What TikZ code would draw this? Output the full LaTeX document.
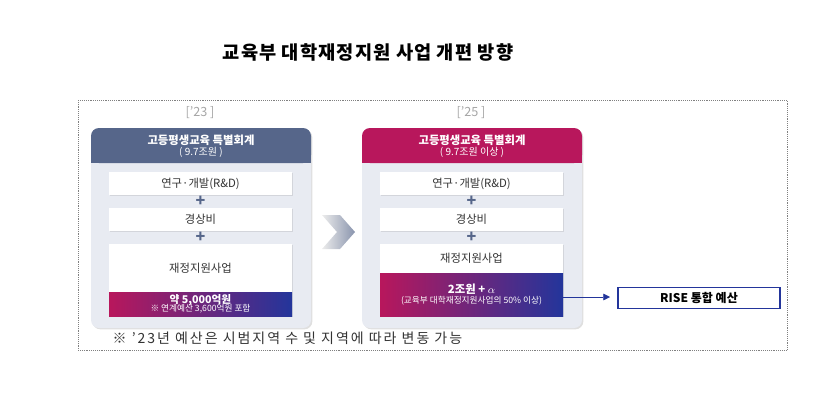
\documentclass[tikz,border=0pt]{standalone}
\usepackage{fontspec}
\setmainfont{Noto Sans CJK KR}
\usetikzlibrary{shadows,arrows.meta}
\definecolor{slate}{HTML}{56668A}
\definecolor{mag}{HTML}{B8175C}
\definecolor{navy}{HTML}{23359B}
\definecolor{panel}{HTML}{E8EBF2}
\definecolor{txt}{HTML}{333333}
\begin{document}
\begin{tikzpicture}[x=0.75pt,y=-0.75pt,
  panelbox/.style={fill=panel,rounded corners=6pt,drop shadow={opacity=0.25,shadow xshift=1pt,shadow yshift=-1pt}},
  wbox/.style={fill=white,draw=none,drop shadow={opacity=0.2,shadow xshift=0.5pt,shadow yshift=-0.5pt}},
  lbl/.style={font=\fontsize{8.5}{9}\selectfont,text=txt},
  plus/.style={font=\fontsize{12}{12}\selectfont\bfseries,text=slate},
  hdr/.style={font=\fontsize{8.5}{9.5}\selectfont\bfseries,text=white,align=center}]
\useasboundingbox (0,0) rectangle (830,401);
\node (title) at (368,52) {\fontsize{14}{16}\selectfont\bfseries\addfontfeature{LetterSpace=6} 교육부 대학재정지원 사업 개편 방향};
\draw[densely dotted,gray] (78,100) rectangle (787,350);
% left
\node[text=gray!70,font=\fontsize{9.5}{9}\selectfont] (y23) at (200,113) {['23 ]};
\path[panelbox] (91,128) rectangle (311,328);
\fill[slate,rounded corners=6pt] (91,128) rectangle (311,163);
\fill[slate] (91,150) rectangle (311,163);
\node[hdr] (h1) at (201,146) {고등평생교육 특별회계\\[-1pt]{\fontsize{7.5}{8}\selectfont\mdseries ( 9.7조원 )}};
\node[wbox,minimum width=183*0.75pt,minimum height=23*0.75pt,lbl] (a1) at (200.5,183.5) {연구·개발(R\&D)};
\node[plus] (p1) at (200.5,201) {+};
\node[wbox,minimum width=183*0.75pt,minimum height=23*0.75pt,lbl] (a2) at (200.5,219.5) {경상비};
\node[plus] (p2) at (200.5,237) {+};
\path[wbox] (109,244) rectangle (292,316);
\node[lbl] (a3) at (200.5,268) {재정지원사업};
\shade[left color=mag,right color=navy] (109,292) rectangle (292,316);
\node[hdr,font=\fontsize{8}{8}\selectfont\bfseries] (g1) at (200.5,304) {약 5,000억원\\[-2pt]{\fontsize{6.5}{7}\selectfont\mdseries ※ 연계예산 3,600억원 포함}};
% chevron
\shade[left color=gray!15,right color=slate!70] (322,215) -- (340,215) -- (355,232) -- (340,249) -- (322,249) -- (337,232) -- cycle;
% right
\node[text=gray!70,font=\fontsize{9.5}{9}\selectfont] (y25) at (471,113) {['25 ]};
\path[panelbox] (362,128) rectangle (582,328);
\fill[mag,rounded corners=6pt] (362,128) rectangle (582,163);
\fill[mag] (362,150) rectangle (582,163);
\node[hdr] (h2) at (472,146) {고등평생교육 특별회계\\[-1pt]{\fontsize{7.5}{8}\selectfont\mdseries ( 9.7조원 이상 )}};
\node[wbox,minimum width=183*0.75pt,minimum height=23*0.75pt,lbl] (b1) at (471.5,183.5) {연구·개발(R\&D)};
\node[plus] (q1) at (471.5,201) {+};
\node[wbox,minimum width=183*0.75pt,minimum height=23*0.75pt,lbl] (b2) at (471.5,219.5) {경상비};
\node[plus] (q2) at (471.5,237) {+};
\path[wbox] (380,244) rectangle (563,316);
\node[lbl] (b3) at (471.5,258) {재정지원사업};
\shade[left color=mag,right color=navy] (380,273) rectangle (563,316);
\node[hdr,font=\fontsize{8.5}{9}\selectfont\bfseries] (g2) at (471.5,294.5) {2조원 + $\boldmath\alpha$\\[-1pt]{\fontsize{6.5}{7}\selectfont\mdseries (교육부 대학재정지원사업의 50\% 이상)}};
\coordinate (gout) at (563,297);
\coordinate (gend) at (610,297);
\node[draw=navy,line width=0.9pt,minimum width=162*0.75pt,minimum height=20*0.75pt,font=\fontsize{9}{9}\selectfont\bfseries] (rise) at (699,298) {RISE 통합 예산};
\draw[navy,-{Triangle[length=5pt,width=5pt]}] (gout) -- (gend);
\node[anchor=west,font=\fontsize{10.5}{10}\selectfont\addfontfeature{LetterSpace=14},text=txt] (note) at (108,338) {※ '23년 예산은 시범지역 수 및 지역에 따라 변동 가능};
\end{tikzpicture}
\end{document}
